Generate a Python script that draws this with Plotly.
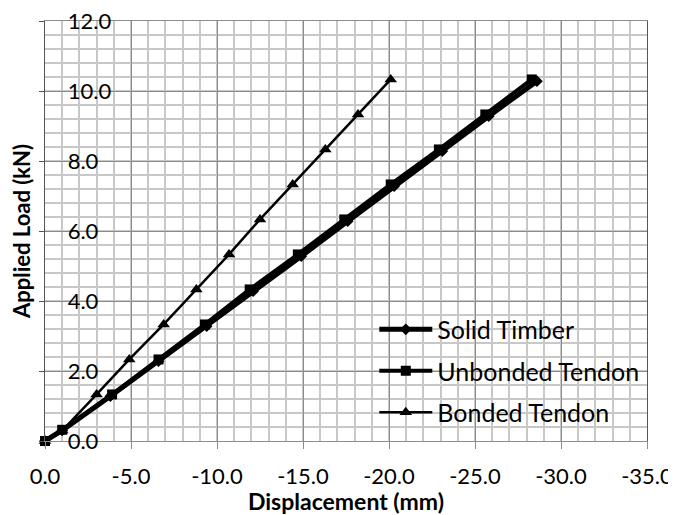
import plotly.graph_objects as go

# Data
solid_x = [0, -1.0, -3.8, -6.6, -9.4, -12.1, -14.9, -17.6, -20.3, -23.1, -25.8, -28.6]
solid_y = [0, 0.30, 1.28, 2.28, 3.28, 4.28, 5.28, 6.28, 7.28, 8.28, 9.28, 10.28]
unb_x = [0, -1.0, -3.9, -6.6, -9.3, -11.9, -14.7, -17.4, -20.1, -22.9, -25.6, -28.3]
unb_y = [0, 0.32, 1.33, 2.33, 3.33, 4.33, 5.33, 6.33, 7.33, 8.33, 9.33, 10.33]
bond_x = [0, -1.0, -3.0, -4.9, -6.9, -8.8, -10.7, -12.5, -14.4, -16.3, -18.2, -20.1]
bond_y = [0, 0.30, 1.33, 2.33, 3.33, 4.33, 5.33, 6.33, 7.33, 8.33, 9.33, 10.33]

x_tickvals = [0, -5, -10, -15, -20, -25, -30, -35]
x_ticktext = ["0.0", "-5.0", "-10.0", "-15.0", "-20.0", "-25.0", "-30.0", "-35.0"]
y_tickvals = [0, 2, 4, 6, 8, 10, 12]
y_ticktext = ["0.0", "2.0", "4.0", "6.0", "8.0", "10.0", "12.0"]

FONT = "Lato"
TICK_SIZE = 23

fig = go.Figure()
fig.add_trace(go.Scatter(x=solid_x, y=solid_y, name="Solid Timber", mode="lines+markers",
                         line=dict(color="black", width=5),
                         marker=dict(symbol="diamond", size=9, color="black"),
                         legendgroup="a", cliponaxis=False))
fig.add_trace(go.Scatter(x=unb_x, y=unb_y, name="Unbonded Tendon", mode="lines+markers",
                         line=dict(color="black", width=4),
                         marker=dict(symbol="square", size=10, color="black"),
                         legendgroup="b", cliponaxis=False))
fig.add_trace(go.Scatter(x=bond_x, y=bond_y, name="Bonded Tendon", mode="lines+markers",
                         line=dict(color="black", width=2.5),
                         marker=dict(symbol="triangle-up", size=11, color="black"),
                         legendgroup="c", cliponaxis=False, yaxis="y2"))

fig.update_layout(
    width=668, height=507,
    margin=dict(l=37, r=29, t=13, b=74),
    paper_bgcolor="white", plot_bgcolor="white",
    font=dict(family=FONT, size=TICK_SIZE, color="black"),
    showlegend=True,
    legend=dict(x=0.547, y=0.320, xanchor="left", yanchor="top",
                bgcolor="rgba(0,0,0,0)", font=dict(size=25, family=FONT),
                tracegroupgap=6, itemwidth=53),
    xaxis=dict(
        title=dict(text="<b>Displacement (mm)</b>", font=dict(size=23, family=FONT), standoff=12),
        range=[0, -35], tickvals=x_tickvals, ticktext=x_ticktext,
        tickfont=dict(size=22, family=FONT),
        showgrid=True, gridcolor="#8c8c8c", gridwidth=1,
        minor=dict(dtick=1, tick0=0, showgrid=True, gridcolor="#c8c8c8", gridwidth=1.5),
        ticks="outside", ticklen=7, tickcolor="#8c8c8c",
        ticklabelstandoff=9, ticklabeloverflow="allow",
        showline=True, linecolor="#8c8c8c", mirror=True,
        zeroline=False, automargin=False,
    ),
    yaxis=dict(
        title=dict(text="<b>Applied Load (kN)</b>", font=dict(size=22, family=FONT), standoff=6),
        range=[0, 12], tickvals=y_tickvals, showticklabels=False,
        showgrid=True, gridcolor="#8c8c8c", gridwidth=1,
        minor=dict(dtick=0.4, tick0=0, showgrid=True, gridcolor="#c8c8c8", gridwidth=1.5),
        ticks="outside", ticklen=5, tickcolor="#555555",
        showline=True, linecolor="#555555", mirror=True,
        zeroline=False, automargin=False,
    ),
    yaxis2=dict(
        overlaying="y", anchor="free", position=0.036, side="right",
        range=[0, 12], tickvals=y_tickvals, ticktext=y_ticktext,
        showgrid=False, showline=False, zeroline=False, ticks="",
        ticklabeloverflow="allow",
        tickfont=dict(size=22, family=FONT), automargin=False,
    ),
)

fig.write_html("out.html")
